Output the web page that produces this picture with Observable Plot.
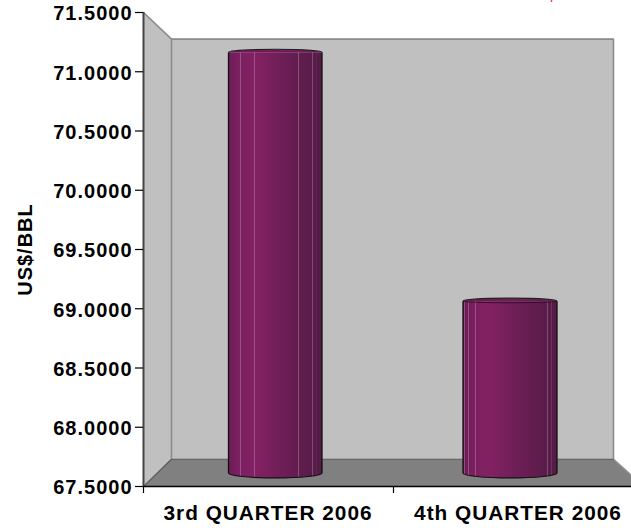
<!DOCTYPE html>
<html>
<head>
<meta charset="utf-8">
<script src="https://cdn.jsdelivr.net/npm/d3@7"></script>
<script src="https://cdn.jsdelivr.net/npm/@observablehq/plot@0.6"></script>
<style>
html,body{margin:0;padding:0;background:#fff;overflow:hidden}
svg{display:block}
</style>
</head>
<body>
<div id="chart"></div>
<script>
const categories = ["3rd QUARTER 2006", "4th QUARTER 2006"];
const values = [71.16, 69.06];
const yTicks = [67.5, 68, 68.5, 69, 69.5, 70, 70.5, 71, 71.5];
const yTitle = "US$/BBL";

// Scene layout, in chart units (one x unit per category)
const yMin = 67.5, yMax = 71.5;
const wallTop = 71.275, floorBack = 67.73, barBase = 67.61;
const wallLeft = 0.112, wallRight = 1.88;
const barLeft = [0.342, 1.28], barRight = [0.716, 1.656];
const labelX = [0.498, 1.498];
const bars = categories.map((c, i) => ({c, v: values[i], x1: barLeft[i], x2: barRight[i], lx: labelX[i], lip: i === 1}));

const sideWall = [
  {x: 0, y1: yMin, y2: yMax},
  {x: wallLeft, y1: floorBack, y2: wallTop}
];
const floor = [
  {x: 0, y1: yMin, y2: yMin},
  {x: wallLeft, y1: yMin, y2: floorBack},
  {x: wallRight, y1: yMin, y2: floorBack},
  {x: 2, y1: yMin, y2: yMin}
];
const backEdge = [
  {x: 0, y: yMax}, {x: wallLeft, y: wallTop}, {x: wallRight, y: wallTop}, {x: wallRight, y: floorBack}, {x: 2, y: yMin}
];
const floorEdge = [
  {x: 0, y: yMin}, {x: wallLeft, y: floorBack}, {x: wallRight, y: floorBack}
];

// Gradient of the cylinder: shading stops and pale facet lines
const shade = [[0,"#6c1c56"],[0.12,"#7c2062"],[0.3,"#822162"],[0.6,"#6c1e55"],[0.85,"#5c1c4b"],[1,"#551b47"]];
const facets = [0.016,0.06,0.13,0.276,0.746,0.85,0.898,0.945];

function shadeAt(p){
  for (let i = 1; i < shade.length; i++) {
    if (p <= shade[i][0]) {
      const t = (p - shade[i-1][0]) / (shade[i][0] - shade[i-1][0]);
      return d3.interpolateRgb(shade[i-1][1], shade[i][1])(t);
    }
  }
  return shade[shade.length-1][1];
}
function defsMark(index, scales, vals, dim, ctx){
  const doc = ctx.document;
  const NS = "http://www.w3.org/2000/svg";
  const defs = doc.createElementNS(NS,"defs");
  const g = doc.createElementNS(NS,"linearGradient");
  g.setAttribute("id","cyl");
  const stops = [];
  shade.forEach(([o,c]) => stops.push([o,c]));
  facets.forEach(f => {
    const pale = d3.interpolateRgb(shadeAt(f),"#ffffff")(0.22);
    stops.push([f-0.004,shadeAt(f-0.004)],[f-0.003,pale],[f+0.003,pale],[f+0.004,shadeAt(f+0.004)]);
  });
  stops.sort((a,b)=>a[0]-b[0]).forEach(([o,c])=>{
    const s = doc.createElementNS(NS,"stop");
    s.setAttribute("offset",o);
    s.setAttribute("stop-color",c);
    g.appendChild(s);
  });
  defs.appendChild(g);
  return defs;
}
function capsMark(index, scales, vals, dim, ctx){
  const doc = ctx.document;
  const NS = "http://www.w3.org/2000/svg";
  const root = doc.createElementNS(NS,"g");
  const add = (d, attrs) => {
    const p = doc.createElementNS(NS,"path");
    p.setAttribute("d", d);
    for (const k in attrs) p.setAttribute(k, attrs[k]);
    root.appendChild(p);
  };
  bars.forEach(b => {
    const l = scales.x(b.x1), r = scales.x(b.x2), rx = (r-l)/2;
    const top = scales.y(b.v), bot = scales.y(barBase);
    // bottom of the cylinder
    add(`M${l},${bot-2}V${bot}A${rx},5 0 0 0 ${r},${bot}V${bot-2}Z`, {fill:"url(#cyl)"});
    add(`M${l},${bot}A${rx},5 0 0 0 ${r},${bot}`, {fill:"none",stroke:"#111","stroke-width":1.2});
    // sides
    add(`M${l},${top}V${bot}M${r},${top}V${bot}`, {fill:"none",stroke:"#111","stroke-width":1.3});
    // top of the cylinder
    add(`M${l},${top}A${rx},3 0 0 1 ${r},${top}Z`, {fill:"#6f1d58"});
    add(`M${l},${top}A${rx},3 0 0 1 ${r},${top}`, {fill:"none",stroke:"#222","stroke-width":1.1});
    if (b.lip) add(`M${l},${top}A${rx},1.6 0 0 0 ${r},${top}`, {fill:"none",stroke:"#2a0f25","stroke-width":0.9});
  });
  return root;
}

const chart = Plot.plot({
  width: 631,
  height: 528,
  marginTop: 12,
  marginBottom: 42,
  marginLeft: 143,
  marginRight: 0,
  style: {fontFamily: "'Liberation Sans', Arial, sans-serif", fontSize: "20px", fontWeight: "bold", letterSpacing: "1px", color: "#000", background: "#fff", overflow: "hidden"},
  x: {domain: [0, 2], range: [143, 643], axis: null},
  y: {domain: [yMin, yMax], axis: null},
  marks: [
    defsMark,
    Plot.rect([0], {x1: wallLeft, x2: wallRight, y1: floorBack, y2: wallTop, fill: "#c0c0c0"}),
    Plot.areaY(sideWall, {x: "x", y1: "y1", y2: "y2", fill: "#c0c0c0", curve: "linear"}),
    Plot.areaY(floor, {x: "x", y1: "y1", y2: "y2", fill: "#808080", curve: "linear"}),
    Plot.line(backEdge, {x: "x", y: "y", stroke: "#8c8c8c", strokeWidth: 1.6, curve: "linear"}),
    Plot.ruleX([wallLeft], {y1: floorBack, y2: wallTop, stroke: "#8c8c8c", strokeWidth: 1.6}),
    Plot.line(floorEdge, {x: "x", y: "y", stroke: "#606060", strokeWidth: 1.2, curve: "linear"}),
    Plot.rect(bars, {x1: "x1", x2: "x2", y1: barBase, y2: "v", fill: "url(#cyl)"}),
    capsMark,
    Plot.ruleX([0], {y1: yMin, y2: yMax, stroke: "#444", strokeWidth: 2}),
    Plot.ruleY([yMin], {x1: 0, x2: 2, stroke: "#000", strokeWidth: 1.6}),
    Plot.ruleX([1.632], {y1: 71.6, y2: 71.585, stroke: "#f03030", strokeWidth: 1.5}),
    Plot.axisY({
      ticks: yTicks,
      tickFormat: () => "",
      tickSize: 8,
      stroke: "#000",
      strokeWidth: 1.2,
      label: null
    }),
    Plot.axisY({
      ticks: yTicks,
      tickFormat: d => d.toFixed(4),
      tickSize: 0,
      tickPadding: 11,
      dy: 1.5,
      label: yTitle,
      labelAnchor: "center",
      labelArrow: "none",
      labelOffset: 126
    }),
    Plot.axisX({ticks: [0, 1, 2], tickFormat: () => "", tickSize: 7, stroke: "#000", strokeWidth: 1.2, label: null}),
    Plot.text(bars, {x: "lx", y: yMin, text: "c", dy: 27, fontSize: 20.8, fontWeight: "bold", fill: "#000"})
  ]
});
document.getElementById("chart").appendChild(chart);
</script>
</body>
</html>
